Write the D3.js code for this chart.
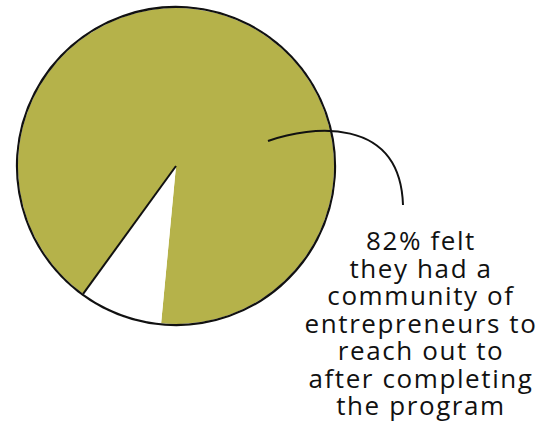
<!DOCTYPE html>
<html>
<head>
<meta charset="utf-8">
<script src="https://cdn.jsdelivr.net/npm/d3@7"></script>
<style>
  body { margin: 0; background: #fff; }
  svg { display: block; }
</style>
</head>
<body>
<div id="chart"></div>
<script>
// shares as drawn in the picture (white slice is narrower than the label says)
const categories = ["community", "no community"];
const shares = [91.5, 8.5];
const colors = ["#b5b24a", "#ffffff"];
const labelLines = ["82% felt", "they had a", "community of", "entrepreneurs to", "reach out to", "after completing", "the program"];

const width = 542;
const height = 437;
const cx = 176, cy = 166, radius = 158;
const deg = Math.PI / 180;

const svg = d3.select("#chart")
  .append("svg")
  .attr("width", width)
  .attr("height", height);

const pie = d3.pie()
  .sort(null)
  .value(d => d)
  .startAngle(216 * deg)
  .endAngle(576 * deg);

const arcs = pie(shares);
const arc = d3.arc().innerRadius(0).outerRadius(radius);

const g = svg.append("g").attr("transform", `translate(${cx},${cy})`);

g.selectAll("path.slice")
  .data(arcs)
  .join("path")
    .attr("class", "slice")
    .attr("d", arc)
    .attr("fill", (d, i) => colors[i]);

// black outline: right rim, down round the white slice, and its left edge
const whiteEnd = arcs[1].endAngle;
const rim = d3.arc()
  .innerRadius(radius + 1)
  .outerRadius(radius + 1)
  .startAngle(49 * deg)
  .endAngle(whiteEnd);
g.append("path")
  .attr("d", rim())
  .attr("fill", "none")
  .attr("stroke", "#111")
  .attr("stroke-width", 2);

g.append("line")
  .attr("x1", 0).attr("y1", 0)
  .attr("x2", radius * Math.sin(whiteEnd))
  .attr("y2", -radius * Math.cos(whiteEnd))
  .attr("stroke", "#111")
  .attr("stroke-width", 2);

// leader line to the label
svg.append("path")
  .attr("d", "M268,141 C310,126 400,115 403,205")
  .attr("fill", "none")
  .attr("stroke", "#111")
  .attr("stroke-width", 2);

svg.append("g")
  .selectAll("text")
  .data(labelLines)
  .join("text")
    .attr("x", 421)
    .attr("y", (d, i) => 250 + i * 27.5)
    .attr("text-anchor", "middle")
    .attr("font-family", "'Comic Sans MS', 'Open Sans', sans-serif")
    .attr("font-size", 26)
    .attr("letter-spacing", 1.6)
    .attr("fill", "#111")
    .text(d => d);
</script>
</body>
</html>
